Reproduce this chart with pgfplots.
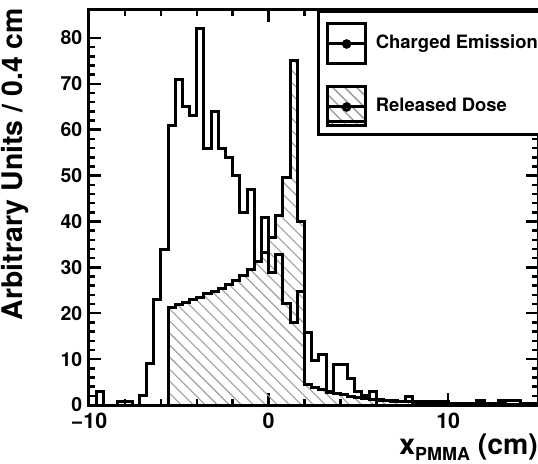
\documentclass[border=0pt]{standalone}
\usepackage{fontspec}
\setmainfont{TeX Gyre Heros}
\usepackage{pgfplots}
\pgfplotsset{compat=1.18}
\usetikzlibrary{patterns.meta}

\begin{document}
\begin{tikzpicture}
\begin{axis}[
  name=ax,
  scale only axis, width=449bp, height=395bp,
  xmin=-10, xmax=15, ymin=0, ymax=86.1,
  xtick={-10,0,10}, xticklabels={−10,0,10},
  ytick={0,10,...,80},
  minor x tick num=4, minor y tick num=4,
  major tick length=12bp, minor tick length=6bp,
  tick align=inside,
  tick style={line width=2.5bp, black},
  axis line style={line width=3bp},
  /pgf/number format/assume math mode=true,
  yticklabel style={font=\bfseries\fontsize{19.5}{21}\selectfont, inner ysep=0pt, inner xsep=6.5bp},
  xticklabel style={font=\bfseries\fontsize{21.5}{23}\selectfont, inner ysep=8bp, inner xsep=0pt},
  label style={font=\bfseries\fontsize{28.5}{30}\selectfont},
  xlabel={x\raisebox{-6.5bp}{\fontsize{18}{18}\selectfont PMMA} (cm)},
  ylabel={Arbitrary Units / 0.4 cm},
  xlabel style={at={([yshift=-49bp]rel axis cs:1,0)}, anchor=base east, inner sep=0pt},
  ylabel style={at={([xshift=-88bp,yshift=2bp]rel axis cs:0,1)}, anchor=north east, inner sep=0pt},
  reverse legend,
  legend style={at={(0.507,1)}, anchor=north west, draw=black, line width=3bp, fill=white,
    inner xsep=8bp, inner ysep=11bp, row sep=20bp, column sep=8.7bp,
    font=\bfseries\fontsize{18.5}{20}\selectfont,
    nodes={inner sep=0pt, text height=13bp, text depth=4bp}},
  legend cell align=left,
]
% Released Dose
\addplot[const plot mark left, draw=black, line width=3bp, line join=miter,
  pattern={Lines[angle=-45,distance=8.5bp,line width=1.1bp]}, pattern color=black!38,
  legend image code/.code={
    \begin{pgfinterruptboundingbox}
    \fill[pattern={Lines[angle=-45,distance=8.5bp,line width=1.1bp]}, pattern color=black!38] (0,-19bp) rectangle (38bp,20bp);
    \end{pgfinterruptboundingbox}
    \path (0,-15bp) rectangle (38bp,20bp);
    \draw[line width=3bp] (0,0) -- (38bp,0);
    \fill (19bp,0) circle (3.2bp);}]
coordinates {
(-5.6,21.2) (-5.2,21.8) (-4.8,22.3) (-4.4,22.9) (-4.0,23.5) (-3.6,24.2) (-3.2,24.8)
(-2.8,25.4) (-2.4,26.3) (-2.0,27.2) (-1.6,28.3) (-1.2,29.6) (-0.8,31.3) (-0.4,33.2)
(0.0,36.5) (0.4,41.3) (0.8,49.5) (1.2,75.1) (1.6,40.0) (2.0,4.4) (2.4,3.8) (2.8,3.3)
(3.2,2.9) (3.6,2.5) (4.0,2.2) (4.4,1.9) (4.8,1.7) (5.2,1.5) (5.6,1.3) (6.0,1.15)
(6.4,1.0) (6.8,0.9) (7.2,0.8) (7.6,0.72) (8.0,0.65) (8.4,0.58) (8.8,0.52) (9.2,0.47)
(9.6,0.43) (10.0,0.39) (10.4,0.36) (10.8,0.33) (11.2,0.3) (11.6,0.28) (12.0,0.26)
(12.4,0.24) (12.8,0.22) (13.2,0.2) (13.6,0.19) (14.0,0.18) (14.4,0.17) (14.8,0.16) (15.2,0.16)
} \closedcycle;
\addlegendentry{Released Dose}
% Charged Emission
\addplot[const plot mark left, draw=black, line width=3bp, line join=miter,
  legend image code/.code={
    \path (0,-20bp) rectangle (38bp,20bp);
    \draw[line width=3bp] (0,0) -- (38bp,0);
    \fill (19bp,0) circle (3.2bp);}]
coordinates {
(-10,0) (-9.6,3) (-9.2,0) (-8.8,0) (-8.4,0.8) (-8.0,0.8) (-7.6,0) (-7.2,2) (-6.8,9)
(-6.4,23) (-6.0,34) (-5.6,61) (-5.2,71) (-4.8,65) (-4.4,63) (-4.0,82) (-3.6,56)
(-3.2,64) (-2.8,56) (-2.4,54) (-2.0,50) (-1.6,42) (-1.2,47) (-0.8,31.3) (-0.4,40.8)
(0.0,28.8) (0.4,32.7) (0.8,22.2) (1.2,18.0) (1.6,24.7) (2.0,15.9) (2.4,9.8) (2.8,11.1)
(3.2,2.8) (3.6,8.9) (4.0,8.9) (4.4,5.7) (4.8,2.9) (5.2,2.0) (5.6,2.9) (6.0,1.0)
(6.4,0.9) (6.8,0.8) (7.2,0.8) (7.6,1.8) (8.0,0.7) (8.4,0.7) (8.8,0.8) (9.2,0.8)
(9.6,0.8) (10.0,0.4) (10.4,0.4) (10.8,0.3) (11.2,0.3) (11.6,0.9) (12.0,0.3) (12.4,0.3)
(12.8,0.9) (13.2,0.9) (13.6,0.9) (14.0,0.3) (14.4,0.3) (14.8,0.3) (15.2,0.3)
};
\addlegendentry{Charged Emission}
\end{axis}
\pgfresetboundingbox
\path[use as bounding box] ([xshift=-89bp,yshift=-59bp]ax.south west) rectangle ([yshift=10bp]ax.north east);
\end{tikzpicture}
\end{document}
